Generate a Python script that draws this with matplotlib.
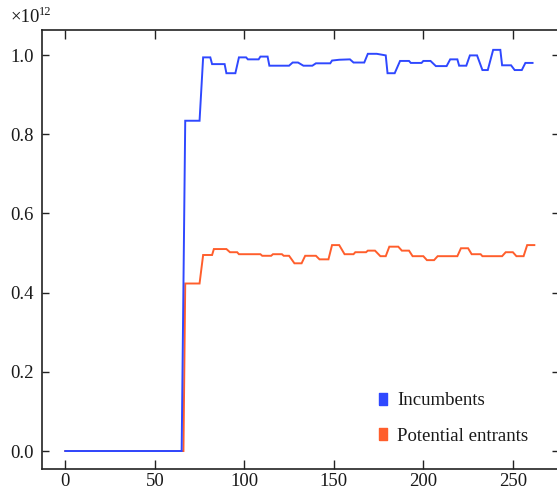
import matplotlib
matplotlib.use("Agg")
import matplotlib.pyplot as plt
from matplotlib.lines import Line2D

plt.rcParams['font.family'] = ['Liberation Serif', 'DejaVu Serif']

# Incumbents (values in units of 1e12)
inc_x = [0, 65, 67, 75, 77, 81, 82, 89, 90, 95, 97, 101, 102, 108, 109, 113, 114, 125,
         127, 130, 133, 138, 140, 148, 149, 153, 159, 161, 167, 169, 174, 179, 180, 184,
         187, 192, 193, 199, 200, 204, 207, 213, 215, 219, 220, 224, 226, 230, 233, 236,
         239, 243, 244, 249, 251, 255, 257, 261]
inc_v = [0, 0, 0.834, 0.834, 0.994, 0.994, 0.977, 0.977, 0.954, 0.954, 0.994, 0.994,
         0.989, 0.989, 0.996, 0.996, 0.973, 0.973, 0.981, 0.981, 0.973, 0.973, 0.979,
         0.979, 0.986, 0.988, 0.989, 0.981, 0.981, 1.003, 1.003, 0.999, 0.954, 0.954,
         0.985, 0.985, 0.980, 0.980, 0.985, 0.985, 0.972, 0.972, 0.989, 0.989, 0.973,
         0.973, 0.999, 0.999, 0.962, 0.962, 1.013, 1.013, 0.974, 0.974, 0.962, 0.962,
         0.980, 0.980]

# Potential entrants (values in units of 1e12)
ent_x = [0, 66, 67, 75, 77, 82, 83, 90, 92, 96, 97, 109, 110, 115, 116, 121, 122, 125,
         128, 132, 134, 140, 142, 147, 149, 153, 156, 161, 162, 168, 169, 173, 176, 179,
         181, 186, 188, 192, 194, 200, 202, 206, 208, 219, 221, 225, 227, 232, 233, 244,
         246, 250, 252, 256, 258, 262]
ent_v = [0, 0, 0.423, 0.423, 0.495, 0.495, 0.510, 0.510, 0.502, 0.502, 0.497, 0.497,
         0.493, 0.493, 0.497, 0.497, 0.493, 0.493, 0.474, 0.474, 0.493, 0.493, 0.484,
         0.484, 0.520, 0.520, 0.497, 0.497, 0.502, 0.502, 0.506, 0.506, 0.492, 0.492,
         0.516, 0.516, 0.506, 0.506, 0.492, 0.492, 0.482, 0.482, 0.492, 0.492, 0.512,
         0.512, 0.497, 0.497, 0.492, 0.492, 0.502, 0.502, 0.492, 0.492, 0.520, 0.520]

series_names = ["Incumbents", "Potential entrants"]
x_ticks = [0, 50, 100, 150, 200, 250]
y_ticks = [0.0, 0.2, 0.4, 0.6, 0.8, 1.0]

BLUE = "#2f48ff"
ORANGE = "#ff5e2c"
TXT = "#1a1a1a"
FS = 13.5

fig = plt.figure(figsize=(5.57, 4.92), dpi=100)
ax = fig.add_axes([0.0759, 0.0461, 0.9268, 0.8929])

ax.plot(ent_x, ent_v, color=ORANGE, lw=1.4, solid_joinstyle='miter')
ax.plot(inc_x, inc_v, color=BLUE, lw=1.4, solid_joinstyle='miter')

ax.set_xlim(-12.85, 275.5)
ax.set_ylim(-0.0462, 1.0631)
ax.set_xticks(x_ticks)
ax.set_xticklabels([str(t) for t in x_ticks])
ax.set_yticks(y_ticks)
ax.set_yticklabels([f"{t:.1f}" for t in y_ticks])

for s in ax.spines.values():
    s.set_linewidth(1.2)
    s.set_color("#222222")
ax.tick_params(axis='x', direction='in', length=6.5, width=1.0, top=True,
               labelsize=FS, pad=3, colors="#222222", labelcolor=TXT)
ax.tick_params(axis='y', direction='in', length=5.0, width=1.0, right=True,
               labelsize=FS, pad=6, colors="#222222", labelcolor=TXT)

fig.text(11/557, 1 - 22/492, "\u00d710", fontsize=FS, color=TXT,
         ha='left', va='baseline')
fig.text(39/557, 1 - 15/492, "12", fontsize=9, color=TXT,
         ha='left', va='baseline')

rect = [(-0.34, -0.5), (0.34, -0.5), (0.34, 0.5), (-0.34, 0.5), (-0.34, -0.5)]
handles = [Line2D([], [], ls='none', marker=rect, markersize=9, color=BLUE),
           Line2D([], [], ls='none', marker=rect, markersize=9, color=ORANGE)]
ax.legend(handles, series_names, loc='upper left',
          bbox_to_anchor=(375.5/557, 1 - 392/492), bbox_transform=fig.transFigure,
          frameon=False, fontsize=FS, labelspacing=1.0, handlelength=0.8,
          handletextpad=0.35, borderpad=0, borderaxespad=0, labelcolor=TXT)

fig.savefig("out.png", dpi=100)
